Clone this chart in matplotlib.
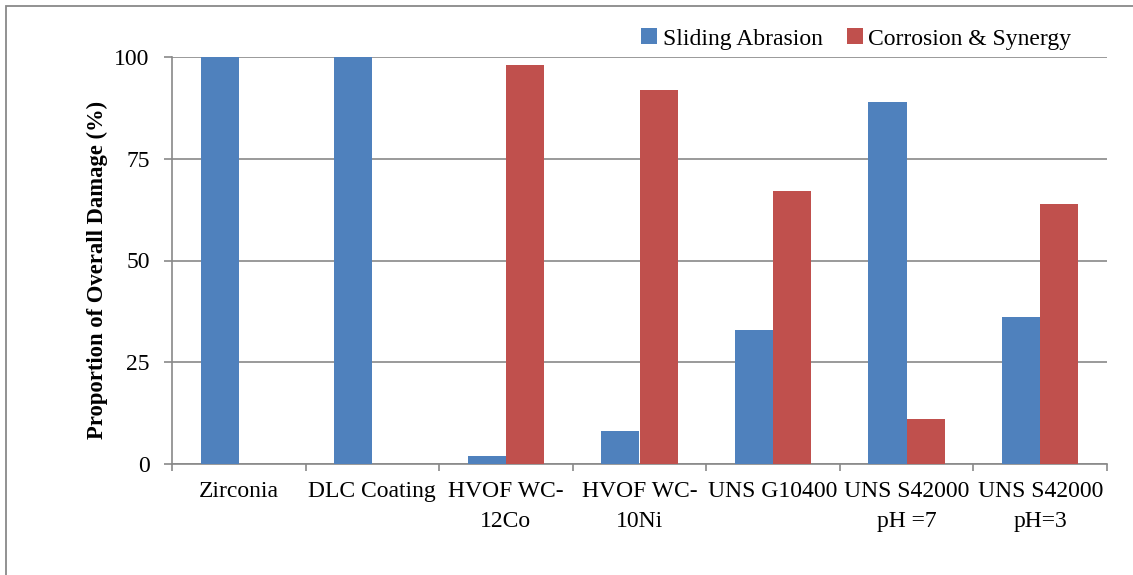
import matplotlib
matplotlib.use("Agg")
import matplotlib.pyplot as plt
from matplotlib.patches import Rectangle
import numpy as np

categories = ["Zirconia", "DLC Coating", "HVOF WC-\n12Co", "HVOF WC-\n10Ni",
              "UNS G10400", "UNS S42000\npH =7", "UNS S42000\npH=3"]
sliding = [100, 100, 2, 8, 33, 89, 36]
corrosion = [0, 0, 98, 92, 67, 11, 64]
series_names = ["Sliding Abrasion", "Corrosion & Synergy"]
yticks = [0, 25, 50, 75, 100]

plt.rcParams['font.family'] = ['Liberation Serif', 'DejaVu Serif']

W, H = 1133, 575
fig = plt.figure(figsize=(W/100, H/100), dpi=100)
ax = fig.add_axes([172/W, 1-464/H, (1107-172)/W, (464-57)/H])

grey = "#898989"
fig.patches.append(Rectangle((6/W, -0.1), 1.2, 1.1-6/H, transform=fig.transFigure,
                             fill=False, edgecolor=grey, linewidth=1.3))

x = np.arange(len(categories))
bw = 0.2857
ax.bar(x - bw/2, sliding, bw, color="#4F81BD", label=series_names[0], zorder=3)
ax.bar(x + bw/2, corrosion, bw, color="#C0504D", label=series_names[1], zorder=3)

ax.set_xlim(-0.5, len(categories) - 0.5)
ax.set_ylim(0, 100)
ax.set_yticks(yticks)
ax.set_yticklabels([str(v) for v in yticks], fontsize=17)
ax.yaxis.grid(True, color=grey, linewidth=1.2, zorder=0)
ax.set_axisbelow(True)

ax.set_xticks(x)
ax.set_xticklabels(categories, fontsize=17, linespacing=1.6)
ax.set_xticks(np.arange(-0.5, len(categories)), minor=True)
ax.tick_params(axis='x', which='major', length=0, pad=12)
ax.tick_params(axis='x', which='minor', length=5, color=grey, width=1.2)
ax.tick_params(axis='y', length=6, color=grey, width=1.2, pad=10)

for s in ['top', 'right']:
    ax.spines[s].set_visible(False)
for s in ['left', 'bottom']:
    ax.spines[s].set_color(grey)
    ax.spines[s].set_linewidth(1.2)

ax.set_ylabel("Proportion of Overall Damage (%)", fontsize=16.3, fontweight='bold')
ax.yaxis.set_label_coords((108-172)/935, 1-(270-57)/407)

ax.legend(loc='upper right', bbox_to_anchor=(1081/W, 1-19/H), bbox_transform=fig.transFigure,
          ncol=2, frameon=False, fontsize=17, handlelength=0.65, handleheight=0.65,
          handletextpad=0.25, columnspacing=1.05, borderaxespad=0)

fig.savefig("out.png", dpi=100)
